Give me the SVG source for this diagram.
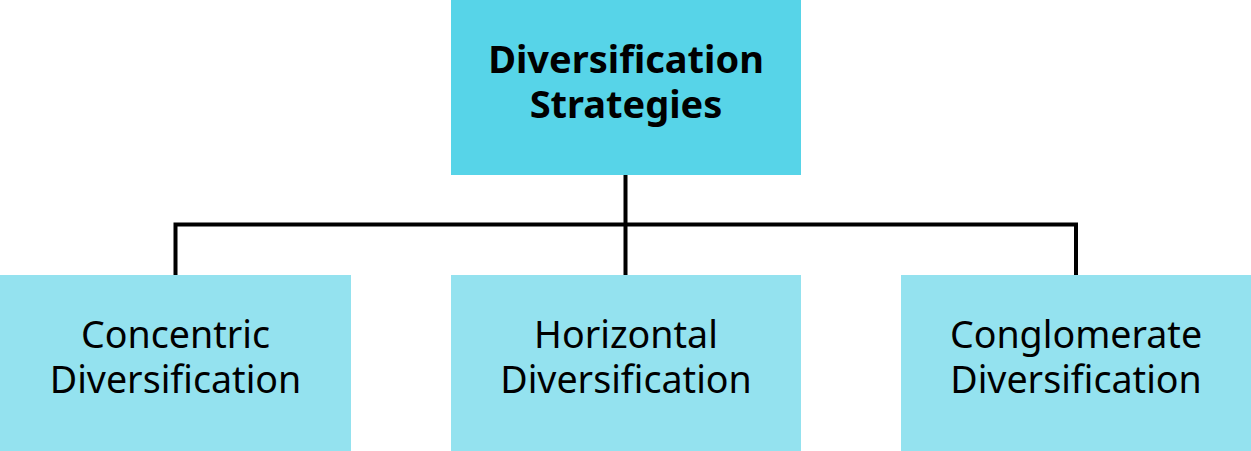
<svg xmlns="http://www.w3.org/2000/svg" width="1251" height="451" viewBox="0 0 1251 451">
<style>
.top{fill:#57D4E8}
.sub{fill:#94E2EF}
.t{font-family:"Noto Sans","Open Sans",sans-serif;font-size:37.6px;fill:#000;text-anchor:middle}
.b{font-weight:bold;font-size:38px}
.c{fill:none;stroke:#000;stroke-width:4}
</style>
<rect width="1251" height="451" fill="#fff"/>
<g id="connectors">
<path class="c" d="M625.5 175V275M175.5 275V224.5H1076V275"/>
</g>
<g id="root">
<rect class="top" x="451" y="0" width="350" height="175"/>
<text class="t b" x="626" y="73">Diversification</text>
<text class="t b" x="626" y="118">Strategies</text>
</g>
<g id="concentric">
<rect class="sub" x="0" y="275" width="351" height="176"/>
<text class="t" x="175.5" y="348">Concentric</text>
<text class="t" x="175.5" y="393">Diversification</text>
</g>
<g id="horizontal">
<rect class="sub" x="451" y="275" width="350" height="176"/>
<text class="t" x="626" y="348">Horizontal</text>
<text class="t" x="626" y="393">Diversification</text>
</g>
<g id="conglomerate">
<rect class="sub" x="901" y="275" width="350" height="176"/>
<text class="t" x="1076" y="348">Conglomerate</text>
<text class="t" x="1076" y="393">Diversification</text>
</g>
</svg>
